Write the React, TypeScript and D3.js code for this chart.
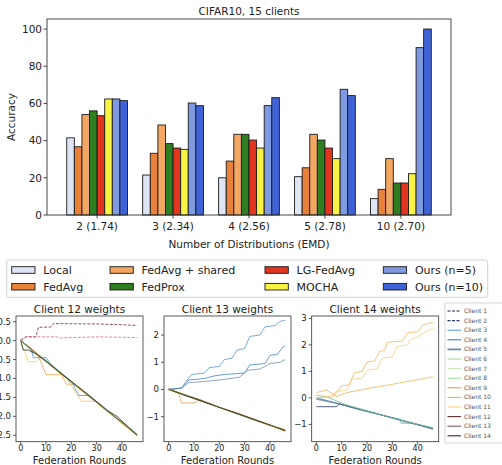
import React from "react";
import * as d3 from "d3";

// ---- top bar chart data ----
const categories = ["2 (1.74)", "3 (2.34)", "4 (2.56)", "5 (2.78)", "10 (2.70)"];
const methods = ["Local", "FedAvg", "FedAvg + shared", "FedProx", "LG-FedAvg", "MOCHA", "Ours (n=5)", "Ours (n=10)"];
const methodColors = ["#dfe5f5", "#e8823a", "#f2a862", "#2e7d1f", "#e2341f", "#f8f244", "#7f9ae0", "#3f62d8"];
const local = [41.5, 21.5, 20, 20.6, 8.8];
const fedAvg = [36.7, 33.2, 29, 25.4, 13.8];
const fedAvgShared = [54, 48.4, 43.4, 43.4, 30.3];
const fedProx = [56, 38.4, 43.4, 40.3, 17.2];
const lgFedAvg = [53.4, 36, 40.3, 36, 17.2];
const mocha = [62.4, 35.3, 36, 30.3, 22.2];
const ours5 = [62.4, 60.2, 58.8, 67.6, 90];
const ours10 = [61.5, 58.8, 63.1, 64.2, 100];
const accTicks = [0, 20, 40, 60, 80, 100];

// ---- bottom weight panels data: [round, weight] ----
const roundTicks = [0, 10, 20, 30, 40];

const c12Dashed = [
  { color: "#7a2838", pts: [[0, 0.02], [2, 0.1], [6, 0.1], [7, 0.35], [12, 0.36], [13, 0.45], [30, 0.44], [40, 0.42], [46, 0.4]] },
  { color: "#d86a7a", pts: [[0, 0.0], [2, 0.1], [14, 0.1], [16, 0.07], [30, 0.1], [46, 0.08]] },
];
const c12Lines = [
  { color: "#5cb85c", pts: [[0, 0], [4, -0.2], [8, -0.45], [12, -0.62], [16, -0.86], [20, -1.07], [24, -1.3], [28, -1.5], [32, -1.75], [36, -1.94], [40, -2.18], [44, -2.38], [46, -2.5]] },
  { color: "#9ed89a", pts: [[0, 0], [4, -0.25], [8, -0.4], [12, -0.68], [16, -0.84], [20, -1.12], [24, -1.27], [28, -1.55], [32, -1.7], [36, -1.98], [40, -2.14], [44, -2.42], [46, -2.52]] },
  { color: "#e8d44a", pts: [[0, 0], [3, -0.55], [6, -0.55], [8, -0.45], [12, -0.66], [16, -0.9], [20, -1.1], [24, -1.33], [28, -1.52], [32, -1.76], [36, -1.97], [40, -2.2], [46, -2.5]] },
  { color: "#f0a040", pts: [[0, 0], [4, -0.22], [7, -0.4], [10, -0.9], [15, -0.9], [16, -0.88], [18, -1.15], [21, -1.15], [24, -1.32], [28, -1.52], [32, -1.75], [36, -1.95], [40, -2.18], [46, -2.5]] },
  { color: "#4a8fd6", pts: [[0, 0], [4, -0.2], [5, -0.45], [10, -0.45], [12, -0.64], [16, -0.86], [20, -1.08], [23, -1.45], [27, -1.45], [28, -1.52], [32, -1.73], [36, -1.96], [40, -2.16], [46, -2.48]] },
  { color: "#f5b860", pts: [[0, 0], [6, -0.3], [12, -0.66], [18, -0.98], [24, -1.6], [28, -1.6], [30, -1.62], [34, -1.85], [40, -2.18], [46, -2.5]] },
  { color: "#40b0a0", pts: [[0, 0], [5, -0.3], [10, -0.52], [15, -0.8], [20, -1.1], [25, -1.35], [30, -1.62], [35, -1.9], [40, -2.15], [46, -2.48]] },
  { color: "#202020", pts: [[0, 0], [1, -0.25], [3, -0.25], [6, -0.35], [10, -0.55], [16, -0.88], [22, -1.18], [28, -1.5], [34, -1.83], [38, -2.0], [42, -2.25], [46, -2.5]] },
  { color: "#7a5030", pts: [[0, 0], [8, -0.44], [16, -0.86], [24, -1.3], [32, -1.74], [40, -2.16], [46, -2.5]] },
];

const c13Lines = [
  { color: "#e89a40", pts: [[0, 0], [4, -0.15], [5, -0.5], [10, -0.5], [12, -0.4], [18, -0.6], [26, -0.85], [34, -1.1], [40, -1.3], [46, -1.48]] },
  { color: "#f0d060", pts: [[0, 0.05], [6, -0.18], [14, -0.45], [22, -0.72], [30, -0.98], [38, -1.25], [46, -1.52]] },
  { color: "#d8a860", pts: [[0, 0], [10, -0.33], [20, -0.65], [30, -0.98], [40, -1.3], [46, -1.55]] },
  { color: "#6a3020", pts: [[0, 0.02], [6, -0.2], [12, -0.38], [20, -0.66], [28, -0.9], [36, -1.18], [42, -1.38], [46, -1.52]] },
  { color: "#2a1a10", pts: [[0, 0], [8, -0.27], [16, -0.53], [24, -0.79], [32, -1.05], [40, -1.31], [46, -1.5]] },
  { color: "#5a7a40", pts: [[0, 0], [12, -0.36], [24, -0.8], [36, -1.2], [46, -1.5]] },
  { color: "#4a90d8", pts: [[0, 0], [5, 0.05], [7, 0.3], [9, 0.55], [14, 0.6], [16, 0.8], [20, 0.85], [22, 1.1], [25, 1.15], [27, 1.45], [30, 1.5], [32, 1.95], [36, 2.0], [38, 2.3], [42, 2.35], [44, 2.5], [46, 2.55]] },
  { color: "#3a7cc0", pts: [[0, 0], [5, 0.05], [8, 0.35], [14, 0.4], [18, 0.5], [22, 0.55], [30, 0.6], [32, 0.9], [38, 0.95], [40, 1.25], [43, 1.3], [45, 1.55], [46, 1.6]] },
  { color: "#6a8aac", pts: [[0, 0], [5, 0.05], [8, 0.25], [15, 0.3], [20, 0.35], [28, 0.45], [31, 0.7], [36, 0.75], [40, 0.95], [44, 1.0], [46, 1.1]] },
];

const c14Lines = [
  { color: "#1e2a50", pts: [[0, -0.33], [8, -0.33], [9, -0.22], [14, -0.35], [20, -0.5], [26, -0.65], [32, -0.8], [38, -0.95], [46, -1.15]] },
  { color: "#3a9a90", pts: [[0, 0], [6, -0.15], [12, -0.3], [18, -0.45], [24, -0.6], [30, -0.75], [36, -0.9], [42, -1.05], [46, -1.17]] },
  { color: "#4a8fd6", pts: [[0, 0], [10, -0.25], [20, -0.5], [30, -0.74], [33, -0.8], [33.5, -0.95], [38, -0.95], [40, -1.0], [46, -1.14]] },
  { color: "#607080", pts: [[0, -0.05], [8, -0.2], [16, -0.42], [24, -0.6], [32, -0.82], [40, -1.02], [46, -1.18]] },
  { color: "#70c090", pts: [[0, 0.1], [4, 0.05], [10, -0.2], [20, -0.48], [30, -0.76], [40, -1.0], [46, -1.12]] },
  { color: "#f0b050", pts: [[0, 0], [4, 0.05], [6, 0.02], [8, 0.2], [10, 0.45], [13, 0.5], [15, 0.95], [18, 1.0], [20, 1.35], [23, 1.4], [25, 1.75], [27, 1.8], [28, 2.1], [34, 2.15], [36, 2.45], [40, 2.5], [42, 2.75], [46, 2.85]] },
  { color: "#f8c878", pts: [[0, 0], [5, 0.05], [8, 0.25], [12, 0.3], [14, 0.7], [18, 0.75], [20, 1.05], [24, 1.1], [26, 1.5], [30, 1.55], [32, 1.95], [36, 2.0], [37, 2.2], [40, 2.3], [43, 2.5], [46, 2.62]] },
  { color: "#f0b050", pts: [[0, 0.2], [4, 0.3], [8, 0.05], [12, 0.2], [20, 0.35], [26, 0.45], [32, 0.55], [38, 0.65], [46, 0.8]] },
];

const clientNames = ["Client 1", "Client 2", "Client 3", "Client 4", "Client 5", "Client 6", "Client 7", "Client 8", "Client 9", "Client 10", "Client 11", "Client 12", "Client 13", "Client 14"];
const clientColors = ["#1a1f4a", "#2a3a7a", "#5aa0e0", "#3a80c8", "#6a8aaa", "#a8d89a", "#c8e8b8", "#a0e0a0", "#e0a050", "#f0b040", "#f8d080", "#5a2a2a", "#8a5a5a", "#4a2020"];
const clientDashed = [true, true, false, false, false, false, false, false, false, false, false, false, false, false];

const FONT = "DejaVu Sans";

const BarChart = () => {
  const left = 47, right = 451, top = 19, bottom = 215;
  const x = d3.scaleLinear().domain([-0.66, 4.66]).range([left, right]);
  const y = d3.scaleLinear().domain([0, 105.4]).range([bottom, top]);
  const inner = d3.scaleBand().domain(methods).range([-0.4, 0.4]);
  const series = [local, fedAvg, fedAvgShared, fedProx, lgFedAvg, mocha, ours5, ours10];
  return (
    <g fontFamily={FONT}>
      <text x={249} y={15} textAnchor="middle" fontSize={10.5} fill="#222">CIFAR10, 15 clients</text>
      {series.map((vals, si) =>
        vals.map((v, ci) => {
          const x0 = x(ci + (inner(methods[si]) as number));
          const x1 = x(ci + (inner(methods[si]) as number) + inner.bandwidth());
          return (
            <rect key={`${si}-${ci}`} x={x0} y={y(v)} width={x1 - x0} height={y(0) - y(v)}
              fill={methodColors[si]} stroke="#1a1a1a" strokeWidth={0.9} />
          );
        })
      )}
      <rect x={left} y={top} width={right - left} height={bottom - top} fill="none" stroke="#333" strokeWidth={0.9} />
      {accTicks.map((t) => (
        <g key={t}>
          <line x1={left - 3.5} x2={left} y1={y(t)} y2={y(t)} stroke="#333" strokeWidth={0.9} />
          <text x={left - 5} y={y(t) + 3.8} textAnchor="end" fontSize={10.5} fill="#222">{t}</text>
        </g>
      ))}
      {categories.map((c, i) => (
        <g key={c}>
          <line x1={x(i)} x2={x(i)} y1={bottom} y2={bottom + 3.5} stroke="#333" strokeWidth={0.9} />
          <text x={x(i)} y={bottom + 14.5} textAnchor="middle" fontSize={10.5} fill="#222">{c}</text>
        </g>
      ))}
      <text x={249} y={248} textAnchor="middle" fontSize={10.5} fill="#222">Number of Distributions (EMD)</text>
      <text transform={`translate(15,${(top + bottom) / 2}) rotate(-90)`} textAnchor="middle" fontSize={10.5} fill="#222">Accuracy</text>
    </g>
  );
};

const TopLegend = () => {
  const colX = [11.7, 110, 265, 383.3];
  const rowY = [270, 286.7];
  return (
    <g fontFamily={FONT}>
      <rect x={6.7} y={260} width={481} height={37.3} rx={2} fill="#fff" stroke="#ccc" strokeWidth={0.9} />
      {methods.map((m, i) => {
        const cx = colX[Math.floor(i / 2)];
        const cy = rowY[i % 2];
        return (
          <g key={m}>
            <rect x={cx} y={cy - 3.3} width={23.3} height={6.6} fill={methodColors[i]} stroke="#1a1a1a" strokeWidth={0.9} />
            <text x={cx + 31.6} y={cy + 3.9} fontSize={11} fill="#222">{m}</text>
          </g>
        );
      })}
    </g>
  );
};

type Line = { color: string; pts: number[][] };

const Panel = ({ left, title, yDomain, yTicks, fmt, lines, dashed }:
  { left: number; title: string; yDomain: number[]; yTicks: number[]; fmt: (v: number) => string; lines: Line[]; dashed?: Line[] }) => {
  const width = 127, top = 316, bottom = 441.7;
  const x = d3.scaleLinear().domain([-1.85, 48.3]).range([left, left + width]);
  const y = d3.scaleLinear().domain(yDomain).range([bottom, top]);
  const gen = d3.line<number[]>().x((d) => x(d[0])).y((d) => y(d[1]));
  return (
    <g fontFamily={FONT}>
      <text x={left + width / 2} y={313} textAnchor="middle" fontSize={10.5} fill="#222">{title}</text>
      {lines.map((l, i) => (
        <path key={i} d={gen(l.pts) || ""} fill="none" stroke={l.color} strokeWidth={1} opacity={0.75} />
      ))}
      {(dashed || []).map((l, i) => (
        <path key={`d${i}`} d={gen(l.pts) || ""} fill="none" stroke={l.color} strokeWidth={1} strokeDasharray="3,1.5" opacity={0.8} />
      ))}
      <rect x={left} y={top} width={width} height={bottom - top} fill="none" stroke="#333" strokeWidth={0.8} />
      {yTicks.map((t) => (
        <g key={t}>
          <line x1={left - 3} x2={left} y1={y(t)} y2={y(t)} stroke="#333" strokeWidth={0.8} />
          <text x={left - 5} y={y(t) + 3} textAnchor="end" fontSize={8.5} fill="#222">{fmt(t)}</text>
        </g>
      ))}
      {roundTicks.map((t) => (
        <g key={t}>
          <line x1={x(t)} x2={x(t)} y1={bottom} y2={bottom + 3} stroke="#333" strokeWidth={0.8} />
          <text x={x(t)} y={bottom + 9.3} textAnchor="middle" fontSize={8} fill="#222">{t}</text>
        </g>
      ))}
      <text x={left + width / 2} y={463.5} textAnchor="middle" fontSize={10} fill="#222">Federation Rounds</text>
    </g>
  );
};

const ClientLegend = () => (
  <g fontFamily={FONT}>
    <rect x={445} y={303} width={70} height={140} fill="#fff" stroke="#ccc" strokeWidth={0.8} />
    {clientNames.map((n, i) => {
      const cy = 311 + i * 9.6;
      return (
        <g key={n}>
          <line x1={447.5} x2={461} y1={cy} y2={cy} stroke={clientColors[i]} strokeWidth={i === 4 ? 1.8 : 1.1}
            strokeDasharray={clientDashed[i] ? "3,1.5" : undefined} />
          <text x={464} y={cy + 2} fontSize={6} fill="#555">{n}</text>
        </g>
      );
    })}
  </g>
);

const minus = (s: string) => s.replace("-", "\u2212");

export default function App() {
  return (
    <svg width={502} height={465} style={{ position: "absolute", left: 0, top: 0, background: "#fff" }}>
      <rect width={502} height={465} fill="#fff" />
      <BarChart />
      <TopLegend />
      <Panel left={16} title="Client 12 weights" yDomain={[-2.67, 0.65]} yTicks={[0.5, 0, -0.5, -1, -1.5, -2, -2.5]}
        fmt={(v) => minus(v.toFixed(1))} lines={c12Lines} dashed={c12Dashed} />
      <Panel left={164} title="Client 13 weights" yDomain={[-1.92, 2.7]} yTicks={[2, 1, 0, -1]}
        fmt={(v) => minus(String(v))} lines={c13Lines} />
      <Panel left={311.7} title="Client 14 weights" yDomain={[-1.65, 3.09]} yTicks={[3, 2, 1, 0, -1]}
        fmt={(v) => minus(String(v))} lines={c14Lines} />
      <ClientLegend />
    </svg>
  );
}
